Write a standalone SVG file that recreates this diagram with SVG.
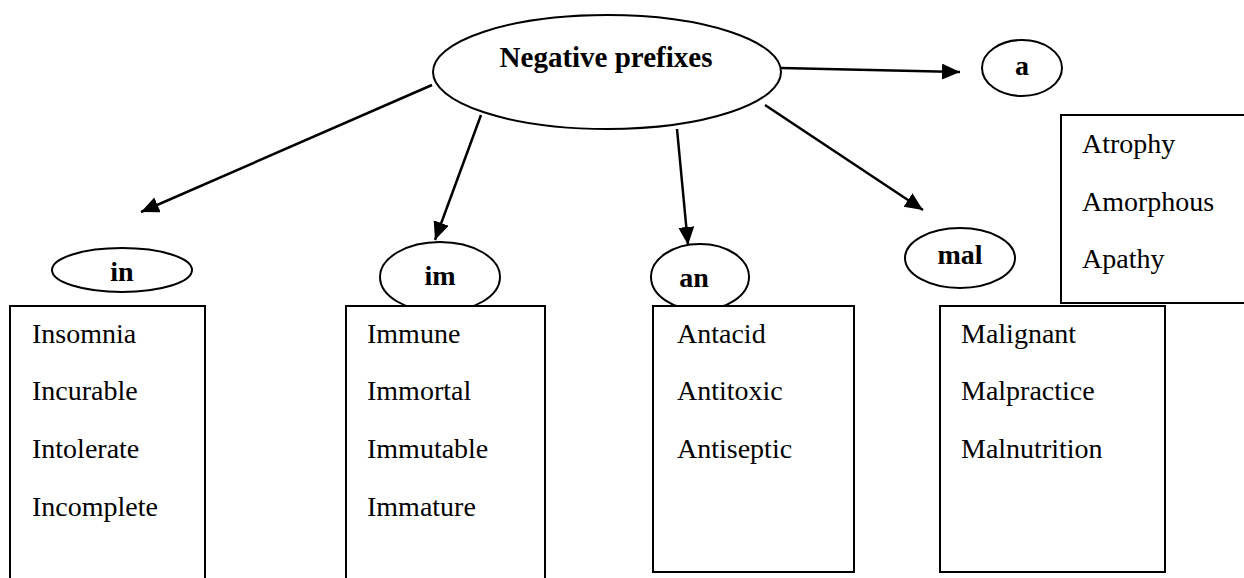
<svg xmlns="http://www.w3.org/2000/svg" width="1244" height="578" viewBox="0 0 1244 578">
<style>
.shape{fill:#fff;stroke:#000;stroke-width:2}
.lbl{font-family:"Liberation Serif","Times New Roman",serif;font-weight:bold;font-size:28px;text-anchor:middle;fill:#000}
.item{font-family:"Liberation Serif","Times New Roman",serif;font-size:28px;fill:#000}
.conn{stroke:#000;stroke-width:2.5;fill:none}
</style>
<defs>
<marker id="arr" markerUnits="userSpaceOnUse" markerWidth="20" markerHeight="18" refX="18" refY="8" orient="auto">
<path d="M0,0 L18,8 L0,16 Z" fill="#000"/>
</marker>
</defs>
<rect width="1244" height="578" fill="#fff"/>
<g id="root">
<ellipse class="shape" cx="607" cy="72" rx="174" ry="57"/>
<text class="lbl" x="606" y="67" style="font-size:29px">Negative prefixes</text>
</g>
<g id="node-a">
<ellipse class="shape" cx="1022" cy="68" rx="40" ry="28"/>
<text class="lbl" x="1022" y="75">a</text>
</g>
<g id="node-in">
<ellipse class="shape" cx="122" cy="270" rx="70" ry="22"/>
<text class="lbl" x="122" y="281">in</text>
</g>
<g id="node-im">
<ellipse class="shape" cx="440" cy="277" rx="60" ry="35"/>
<text class="lbl" x="440" y="285">im</text>
</g>
<g id="node-an">
<ellipse class="shape" cx="700" cy="277" rx="49" ry="33"/>
<text class="lbl" x="694" y="287">an</text>
</g>
<g id="node-mal">
<ellipse class="shape" cx="960" cy="258" rx="55" ry="30"/>
<text class="lbl" x="960" y="264">mal</text>
</g>
<g id="box-a">
<rect class="shape" x="1061" y="115" width="200" height="188"/>
<text class="item" x="1082" y="153">Atrophy</text>
<text class="item" x="1082" y="211">Amorphous</text>
<text class="item" x="1082" y="268">Apathy</text>
</g>
<g id="box-in">
<rect class="shape" x="10" y="306" width="195" height="290"/>
<text class="item" x="32" y="343">Insomnia</text>
<text class="item" x="32" y="400">Incurable</text>
<text class="item" x="32" y="458">Intolerate</text>
<text class="item" x="32" y="516">Incomplete</text>
</g>
<g id="box-im">
<rect class="shape" x="346" y="306" width="199" height="290"/>
<text class="item" x="367" y="343">Immune</text>
<text class="item" x="367" y="400">Immortal</text>
<text class="item" x="367" y="458">Immutable</text>
<text class="item" x="367" y="516">Immature</text>
</g>
<g id="box-an">
<rect class="shape" x="653" y="306" width="201" height="266"/>
<text class="item" x="677" y="343">Antacid</text>
<text class="item" x="677" y="400">Antitoxic</text>
<text class="item" x="677" y="458">Antiseptic</text>
</g>
<g id="box-mal">
<rect class="shape" x="940" y="306" width="225" height="266"/>
<text class="item" x="961" y="343">Malignant</text>
<text class="item" x="961" y="400">Malpractice</text>
<text class="item" x="961" y="458">Malnutrition</text>
</g>
<g id="connectors">
<line class="conn" x1="781" y1="68" x2="960" y2="72" marker-end="url(#arr)"/>
<line class="conn" x1="432" y1="85" x2="141" y2="212" marker-end="url(#arr)"/>
<line class="conn" x1="481" y1="115" x2="435" y2="240" marker-end="url(#arr)"/>
<line class="conn" x1="677" y1="129" x2="688" y2="245" marker-end="url(#arr)"/>
<line class="conn" x1="765" y1="105" x2="923" y2="210" marker-end="url(#arr)"/>
</g>
</svg>
